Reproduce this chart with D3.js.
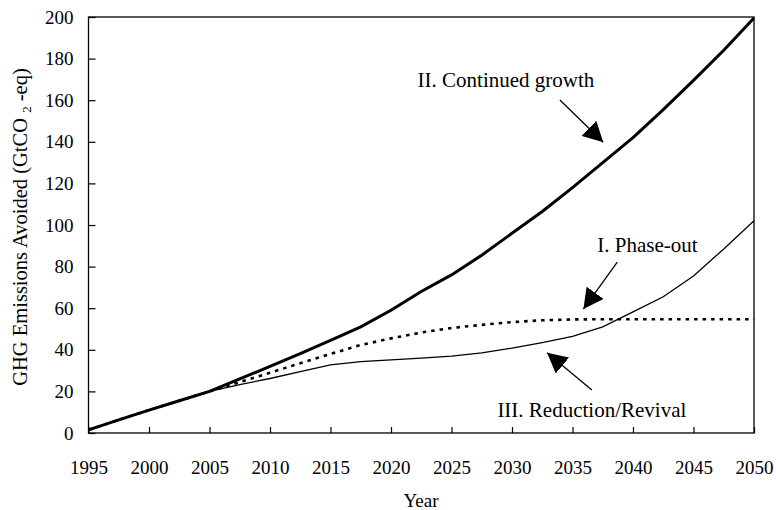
<!DOCTYPE html>
<html>
<head>
<meta charset="utf-8">
<script src="https://cdn.jsdelivr.net/npm/d3@7"></script>
<style>
  html, body { margin: 0; padding: 0; background: #fff; }
  svg { display: block; }
  svg text { font-family: "Liberation Serif", "Times New Roman", serif !important; fill: #000; }
</style>
</head>
<body>
<svg id="chart" width="776" height="510"></svg>
<script>
// Scenario years (2.5-year steps)
const years = [1995, 1997.5, 2000, 2002.5, 2005, 2007.5, 2010, 2012.5, 2015, 2017.5,
               2020, 2022.5, 2025, 2027.5, 2030, 2032.5, 2035, 2037.5, 2040, 2042.5,
               2045, 2047.5, 2050];

// Cumulative GHG emissions avoided, GtCO2-eq
const continuedGrowth = [1.5, 6.3, 11, 15.5, 20, 26, 32, 38.2, 44.5, 51,
                         59, 68, 76, 85.5, 96, 106.5, 118, 130, 142, 155.5,
                         169.5, 184, 199.5];
const phaseOut = [1.5, 6.3, 11, 15.5, 20, 24.5, 29, 33.5, 38, 42.3,
                  45.5, 48.3, 50.5, 52, 53.3, 54.2, 54.6, 54.7, 54.7, 54.7,
                  54.7, 54.7, 54.7];
const reductionRevival = [1.5, 6.3, 11, 15.5, 20, 23.3, 26.2, 29.5, 32.8, 34.3,
                          35.2, 36, 37, 38.5, 40.8, 43.5, 46.5, 51, 58.2, 65.5,
                          75.5, 88.5, 102];

// Axis ticks
const xTicks = [1995, 2000, 2005, 2010, 2015, 2020, 2025, 2030, 2035, 2040, 2045, 2050];
const yTicks = [0, 20, 40, 60, 80, 100, 120, 140, 160, 180, 200];

// Scenario labels with arrows (text anchor and arrow start/tip, in data units)
const annotations = [
  { label: "II. Continued growth", text: [2029.5, 166.5], from: [2033.96, 160.1], to: [2037.54, 139.8] },
  { label: "I. Phase-out",         text: [2041.2, 87.2],  from: [2038.7, 82.1],   to: [2035.9, 59.6] },
  { label: "III. Reduction/Revival", text: [2036.6, 7.7], from: [2036.6, 20.7],   to: [2032.9, 38.6] }
];

const FONT = "'Liberation Serif', 'Times New Roman', serif";
const svg = d3.select("#chart");
const plotL = 88.5, plotR = 754, plotT = 17, plotB = 433;

const x = d3.scaleLinear().domain([1995, 2050]).range([plotL, plotR]);
const y = d3.scaleLinear().domain([0, 200]).range([plotB, plotT]);

// Y axis (ticks point inward)
const yAxis = svg.append("g")
  .attr("transform", `translate(${plotL},0)`)
  .call(d3.axisLeft(y).tickValues(yTicks).tickSizeInner(-7).tickSizeOuter(0).tickPadding(15));
yAxis.attr("font-family", FONT).attr("font-size", 19);
yAxis.select(".domain").remove();
yAxis.selectAll("line").attr("stroke", "#000").attr("stroke-width", 1.2);
yAxis.selectAll("text").style("font-family", FONT).style("font-size", "19px");

// X axis (ticks point inward)
const xAxis = svg.append("g")
  .attr("transform", `translate(0,${plotB})`)
  .call(d3.axisBottom(x).tickValues(xTicks).tickFormat(d3.format("d"))
    .tickSizeInner(-6).tickSizeOuter(0).tickPadding(28));
xAxis.attr("font-family", FONT).attr("font-size", 19);
xAxis.select(".domain").remove();
xAxis.selectAll("line").attr("stroke", "#000").attr("stroke-width", 1.2);
xAxis.selectAll("text").style("font-family", FONT).style("font-size", "19px");

// Plot frame
svg.append("rect")
  .attr("x", plotL).attr("y", plotT)
  .attr("width", plotR - plotL).attr("height", plotB - plotT)
  .attr("fill", "none").attr("stroke", "#000").attr("stroke-width", 1.3);

// Series lines
const line = vals => d3.line()
  .x((d, i) => x(years[i]))
  .y(d => y(d))(vals);

svg.append("path")
  .attr("d", line(reductionRevival))
  .attr("fill", "none").attr("stroke", "#000").attr("stroke-width", 1.3);

svg.append("path")
  .attr("d", line(phaseOut))
  .attr("fill", "none").attr("stroke", "#000").attr("stroke-width", 2.6)
  .attr("stroke-dasharray", "3.5,5");

svg.append("path")
  .attr("d", line(continuedGrowth))
  .attr("fill", "none").attr("stroke", "#000").attr("stroke-width", 3)
  .attr("stroke-linejoin", "round");

// Arrowhead
svg.append("defs").append("marker")
  .attr("id", "head")
  .attr("markerUnits", "userSpaceOnUse")
  .attr("viewBox", "0 0 20 21")
  .attr("refX", 20).attr("refY", 10.5)
  .attr("markerWidth", 20).attr("markerHeight", 21)
  .attr("orient", "auto")
  .append("path").attr("d", "M0,0 L20,10.5 L0,21 Z").attr("fill", "#000");

const ann = svg.append("g");
annotations.forEach(a => {
  ann.append("line")
    .attr("x1", x(a.from[0])).attr("y1", y(a.from[1]))
    .attr("x2", x(a.to[0])).attr("y2", y(a.to[1]))
    .attr("stroke", "#000").attr("stroke-width", 1.3)
    .attr("marker-end", "url(#head)");
  ann.append("text")
    .attr("x", x(a.text[0])).attr("y", y(a.text[1]))
    .attr("text-anchor", "middle")
    .style("font-family", FONT)
    .style("font-size", "21px")
    .text(a.label);
});

// Axis titles
svg.append("text")
  .attr("x", 421).attr("y", 507)
  .attr("text-anchor", "middle")
  .style("font-family", FONT)
  .style("font-size", "19px")
  .text("Year");

const yTitle = svg.append("text")
  .attr("transform", "translate(27,227) rotate(-90)")
  .attr("text-anchor", "middle")
  .style("font-family", FONT)
  .style("font-size", "20.5px");
yTitle.append("tspan").text("GHG Emissions Avoided (GtCO ");
yTitle.append("tspan").attr("dy", 4).style("font-size", "13px").text("2");
yTitle.append("tspan").attr("dy", -4).text(" -eq)");
</script>
</body>
</html>
